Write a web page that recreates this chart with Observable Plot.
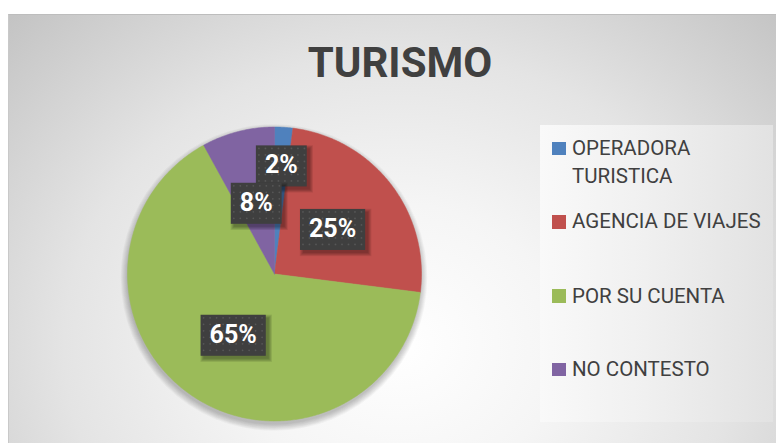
<!DOCTYPE html>
<html>
<head>
<meta charset="utf-8">
<script src="https://cdn.jsdelivr.net/npm/d3@7"></script>
<script src="https://cdn.jsdelivr.net/npm/@observablehq/plot@0.6"></script>
<style>
html,body{margin:0;padding:0;background:#fff;}
#wrap{position:relative;width:776px;height:443px;overflow:hidden;font-family:Roboto,"Open Sans",sans-serif;}
#area{position:absolute;left:8px;top:14px;width:770px;height:431px;box-sizing:border-box;border-top:1px solid #bdbdbd;border-left:1px solid #c9c9c9;
  background:radial-gradient(ellipse 540px 470px at 390px 330px,#ffffff 0%,#f5f5f5 30%,#e4e4e4 62%,#c4c4c4 100%);}
#legendbox{position:absolute;left:540px;top:125px;width:233px;height:297px;background:linear-gradient(to right,#f9f9f9,#f0f0f0 45%,#e2e2e2);}
#title{position:absolute;left:0;width:800px;top:38px;text-align:center;font:bold 42px Roboto,sans-serif;color:#404040;line-height:50px;}
#chart{position:absolute;left:0;top:0;}
.lg{position:absolute;left:572px;font-size:20.5px;line-height:28px;color:#404040;white-space:nowrap;}
.sw{position:absolute;left:552px;width:13.5px;height:13.5px;}
</style>
</head>
<body>
<div id="wrap">
  <div id="area"></div>
  <div id="legendbox"></div>
  <div id="chart"></div>
  <div id="title"></div>
  <div id="legend"></div>
</div>
<script>
// ---- data ----
const title = "TURISMO";
const categories = ["OPERADORA TURISTICA", "AGENCIA DE VIAJES", "POR SU CUENTA", "NO CONTESTO"];
const legendLines = [["OPERADORA", "TURISTICA"], ["AGENCIA DE VIAJES"], ["POR SU CUENTA"], ["NO CONTESTO"]];
const values = [2, 25, 65, 8];
const colors = ["#4F81BD", "#C0504D", "#9BBB59", "#8064A2"];

// ---- geometry from d3.pie (unit circle in data space) ----
const arcs = d3.pie().sort(null).startAngle(0).endAngle(2 * Math.PI)(values);
const slicePts = [];
arcs.forEach((a, i) => {
  slicePts.push({cat: categories[i], x: 0, y: 0});
  const n = Math.max(4, Math.ceil((a.endAngle - a.startAngle) / 0.01));
  for (let k = 0; k <= n; k++) {
    const t = a.startAngle + (a.endAngle - a.startAngle) * k / n;
    slicePts.push({cat: categories[i], x: Math.sin(t), y: Math.cos(t)});
  }
  slicePts.push({cat: categories[i], x: 0, y: 0});
});
const labels = arcs.map((a, i) => {
  const m = (a.startAngle + a.endAngle) / 2;
  const r = values[i] < 5 ? 0.74 : 0.5;
  return {cat: categories[i], x: r * Math.sin(m), y: r * Math.cos(m), text: values[i] + "%"};
});

const cx = 274, cy = 273.5, R = 147;
const plot = Plot.plot({
  width: 776, height: 443,
  marginTop: 0, marginRight: 0, marginBottom: 0, marginLeft: 0,
  x: {domain: [-1, 1], range: [cx - R, cx + R], axis: null},
  y: {domain: [-1, 1], range: [cy + R, cy - R], axis: null},
  color: {domain: categories, range: colors},
  style: {background: "transparent", overflow: "visible"},
  marks: [
    Plot.line(slicePts, {x: "x", y: "y", z: "cat", fill: "cat", stroke: "cat", strokeWidth: 0.5, curve: "linear"}),
    Plot.text(labels, {x: "x", y: "y", text: "text", fill: "white", fontSize: 25, fontWeight: "bold",
      fontFamily: "Roboto, sans-serif"})
  ]
});
document.getElementById("chart").appendChild(plot);

const svg = d3.select(plot);
// soft pie shadow made of layered translucent circles (no SVG filters)
const sx = plot.scale("x"), sy = plot.scale("y");
const pcx = sx.apply(0), pcy = sy.apply(0), pr = sx.apply(1) - sx.apply(0);
const slicesNode = svg.select('g[aria-label="line"]').node();
const shG = svg.insert("g", () => slicesNode).attr("aria-label", "pie-shadow");
for (let k = 7; k >= 0; k--) {
  shG.append("circle").attr("cx", pcx).attr("cy", pcy + 4).attr("r", pr + k * 0.9)
    .attr("fill", "#000").attr("fill-opacity", 0.03);
}
svg.selectAll('g[aria-label="text"] text').each(function () {
  const bb = this.getBBox();
  const w = bb.width + 18, h = 41;
  const ccx = bb.x + bb.width / 2, ccy = bb.y + bb.height / 2 + 1;
  const g = d3.select(this.parentNode).insert("g", () => this);
  const tr = this.getAttribute("transform");
  if (tr) g.attr("transform", tr);
  for (let k = 4; k >= 0; k--) {
    g.append("rect").attr("x", ccx - w / 2 + 3 - k * 0.8).attr("y", ccy - h / 2 + 3 - k * 0.8)
      .attr("width", w + k * 1.6).attr("height", h + k * 1.6).attr("fill", "#000").attr("fill-opacity", 0.08);
  }
  g.append("rect").attr("x", ccx - w / 2).attr("y", ccy - h / 2).attr("width", w).attr("height", h).attr("fill", "#3f3f3f");
  for (let yy = ccy - h / 2 + 3; yy < ccy + h / 2; yy += 6.5)
    for (let xx = ccx - w / 2 + 3; xx < ccx + w / 2; xx += 6.5)
      g.append("circle").attr("cx", xx).attr("cy", yy).attr("r", 0.9).attr("fill", "#575757");
});

// title
document.getElementById("title").textContent = title;

// legend
const capTops = [140.7, 214, 288.3, 361.7];
const legend = document.getElementById("legend");
categories.forEach((c, i) => {
  const sw = document.createElement("div");
  sw.className = "sw"; sw.style.background = colors[i];
  sw.style.top = (capTops[i] + 1) + "px";
  legend.appendChild(sw);
  const t = document.createElement("div");
  t.className = "lg"; t.style.top = (capTops[i] - 6.7) + "px";
  t.innerHTML = legendLines[i].join("<br>");
  legend.appendChild(t);
});
</script>
</body>
</html>
